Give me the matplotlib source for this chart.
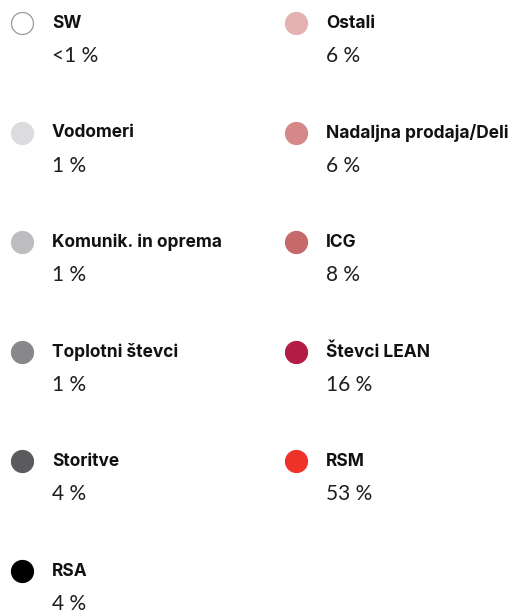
import matplotlib
matplotlib.use("Agg")
import matplotlib.pyplot as plt

left_labels = ["SW", "Vodomeri", "Komunik. in oprema", "Toplotni števci", "Storitve", "RSA"]
left_values = ["<1 %", "1 %", "1 %", "1 %", "4 %", "4 %"]
left_colors = ["#ffffff", "#dcdcde", "#bdbdbf", "#88888b", "#5b5b5e", "#000000"]

right_labels = ["Ostali", "Nadaljna prodaja/Deli", "ICG", "Števci LEAN", "RSM"]
right_values = ["6 %", "6 %", "8 %", "16 %", "53 %"]
right_colors = ["#e3b2b1", "#d48887", "#c7686a", "#b21c45", "#ee3129"]

W, H = 523, 614
fig = plt.figure(figsize=(W / 100, H / 100), dpi=100)
ax = fig.add_axes([0, 0, 1, 1])
ax.set_xlim(0, W)
ax.set_ylim(H, 0)
ax.axis("off")

col_x = [22, 296]
text_dx = 30
row_y0 = 23
row_step = 109.6
val_dy = 33

def draw_col(cx, labels, values, colors):
    for i, (lab, val, col) in enumerate(zip(labels, values, colors)):
        y = row_y0 + i * row_step
        ec = "#9a9a9a" if col == "#ffffff" else col
        ax.scatter([cx], [y], s=250, color=col, edgecolors=ec, linewidths=0.9, zorder=3)
        ax.text(cx + text_dx, y, lab, fontsize=12.5, fontweight="bold", family=["Inter", "DejaVu Sans"],
                color="#111111", va="center", ha="left")
        ax.text(cx + text_dx, y + val_dy, val, fontsize=15, fontweight="normal", family=["Lato", "DejaVu Sans"],
                color="#1e1e1e", va="center", ha="left")

draw_col(col_x[0], left_labels, left_values, left_colors)
draw_col(col_x[1], right_labels, right_values, right_colors)

fig.savefig("out.png", dpi=100, facecolor="white")
